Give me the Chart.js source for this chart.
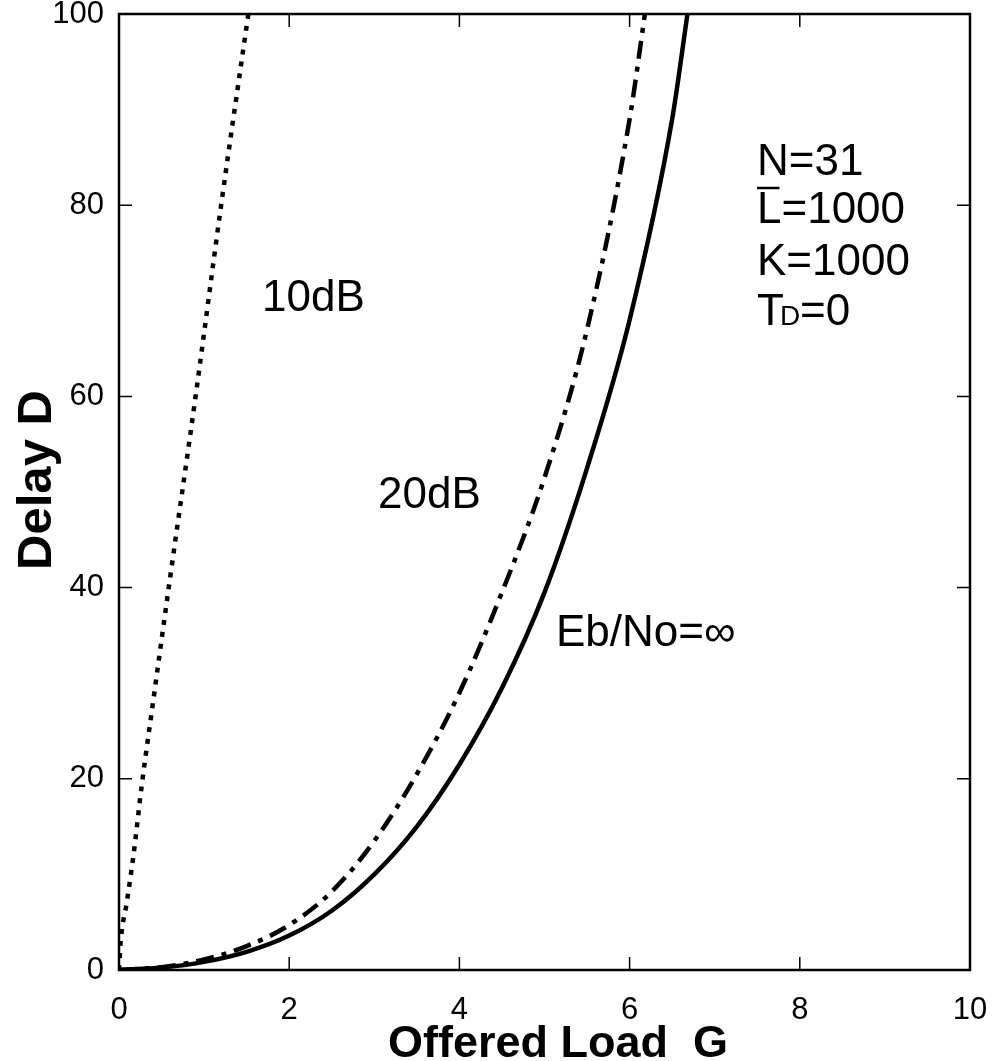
<!DOCTYPE html>
<html>
<head>
<meta charset="utf-8">
<script src="https://cdn.jsdelivr.net/npm/chart.js@4.4.1/dist/chart.umd.min.js"></script>
<style>
  html, body { margin: 0; padding: 0; background: #fff; }
  #wrap { width: 995px; height: 1061px; }
</style>
</head>
<body>
<div id="wrap"><canvas id="chart"></canvas></div>
<script>
// offered load G vs delay D
const loadInf = [0, 0.5, 1, 1.5, 2, 2.5, 3, 3.5, 4, 4.5, 5, 5.5, 6, 6.5, 6.68]
const delayInf = [0, 0.25, 0.85, 1.9, 3.6, 6.2, 10, 15, 21.5, 29.5, 39.5, 52.5, 68, 89, 100]

const load20 = [0, 0.5, 1, 1.5, 2, 2.5, 3, 3.5, 4, 4.5, 5, 5.5, 6, 6.18]
const delay20 = [0, 0.3, 1.1, 2.5, 4.7, 8.2, 13.5, 20.5, 29, 39.5, 51.5, 67, 89, 100]

const load10 = [0, 0.02, 0.09, 0.17, 0.27, 0.4, 0.6, 0.9, 1.2, 1.52]
const delay10 = [0, 3, 7, 12, 19.5, 28, 41, 60, 80, 100]

const xTicks = [0, 2, 4, 6, 8, 10]
const yTicks = [0, 20, 40, 60, 80, 100]

const FONT = '"Liberation Sans", Arial, Helvetica, sans-serif'

function toPoints(xs, ys) {
  return xs.map((x, i) => ({ x: x, y: ys[i] }))
}

// frame with inward ticks, axis titles and the text notes
const frame = {
  id: 'frame',
  afterDraw(chart) {
    const ctx = chart.ctx
    const a = chart.chartArea
    const xs = chart.scales.x
    const ys = chart.scales.y
    const tl = 13
    ctx.save()
    ctx.strokeStyle = '#000'
    ctx.lineWidth = 2.5
    ctx.strokeRect(a.left, a.top, a.right - a.left, a.bottom - a.top)
    ctx.lineWidth = 1.5
    ctx.beginPath()
    xTicks.forEach(v => {
      const px = xs.getPixelForValue(v)
      ctx.moveTo(px, a.bottom); ctx.lineTo(px, a.bottom - tl)
      ctx.moveTo(px, a.top); ctx.lineTo(px, a.top + tl)
    })
    yTicks.forEach(v => {
      const py = ys.getPixelForValue(v)
      ctx.moveTo(a.left, py); ctx.lineTo(a.left + tl, py)
      ctx.moveTo(a.right, py); ctx.lineTo(a.right - tl, py)
    })
    ctx.stroke()

    ctx.fillStyle = '#000'
    ctx.font = 'bold 45px ' + FONT
    ctx.textAlign = 'center'
    ctx.textBaseline = 'alphabetic'
    ctx.fillText('Offered Load  G', 558, 1057)
    ctx.save()
    ctx.translate(51, 480)
    ctx.rotate(-Math.PI / 2)
    ctx.font = 'bold 49px ' + FONT
    ctx.fillText('Delay D', 0, 0)
    ctx.restore()

    ctx.font = '44px ' + FONT
    ctx.textAlign = 'left'
    ctx.fillText('10dB', 262, 311)
    ctx.fillText('20dB', 378, 508)
    ctx.fillText('Eb/No=\u221e', 556, 646)

    const nx = 757
    ctx.fillText('N=31', nx, 175)
    ctx.fillText('L=1000', nx, 223)
    const lw = ctx.measureText('L').width
    ctx.lineWidth = 2.5
    ctx.beginPath()
    ctx.moveTo(nx, 188); ctx.lineTo(nx + lw - 2, 188)
    ctx.stroke()
    ctx.fillText('K=1000', nx, 275)
    ctx.fillText('T', nx, 325)
    const tw = ctx.measureText('T').width
    ctx.font = '28px ' + FONT
    ctx.fillText('D', nx + tw - 4, 325)
    const dw = ctx.measureText('D').width
    ctx.font = '44px ' + FONT
    ctx.fillText('=0', nx + tw - 4 + dw, 325)
    ctx.restore()
  }
}

const lineStyle = {
  borderColor: '#000',
  borderWidth: 4.5,
  pointRadius: 0,
  fill: false,
  showLine: true,
  cubicInterpolationMode: 'monotone'
}

new Chart(document.getElementById('chart'), {
  type: 'scatter',
  data: {
    datasets: [
      Object.assign({ label: 'Eb/No=inf', data: toPoints(loadInf, delayInf) }, lineStyle),
      Object.assign({ label: '20dB', data: toPoints(load20, delay20), borderDash: [18, 8, 5, 8] }, lineStyle),
      Object.assign({ label: '10dB', data: toPoints(load10, delay10), borderDash: [5, 7] }, lineStyle)
    ]
  },
  options: {
    responsive: true,
    maintainAspectRatio: false,
    animation: false,
    layout: { padding: { top: 14, right: 25, left: 0, bottom: 0 } },
    scales: {
      x: {
        type: 'linear',
        min: 0,
        max: 10,
        afterFit: s => { s.height = 91; s.paddingLeft = 0; s.paddingRight = 0 },
        afterBuildTicks: s => { s.ticks = xTicks.map(v => ({ value: v })) },
        grid: { display: false, drawTicks: false },
        border: { display: false },
        ticks: { color: '#000', padding: 22, font: { family: FONT, size: 31 } }
      },
      y: {
        type: 'linear',
        min: 0,
        max: 100,
        afterFit: s => { s.width = 119; s.paddingTop = 0; s.paddingBottom = 0 },
        afterBuildTicks: s => { s.ticks = yTicks.map(v => ({ value: v })) },
        grid: { display: false, drawTicks: false },
        border: { display: false },
        ticks: { color: '#000', padding: 15, font: { family: FONT, size: 31 } }
      }
    },
    plugins: {
      legend: { display: false },
      tooltip: { enabled: false }
    }
  },
  plugins: [frame]
})
</script>
</body>
</html>
